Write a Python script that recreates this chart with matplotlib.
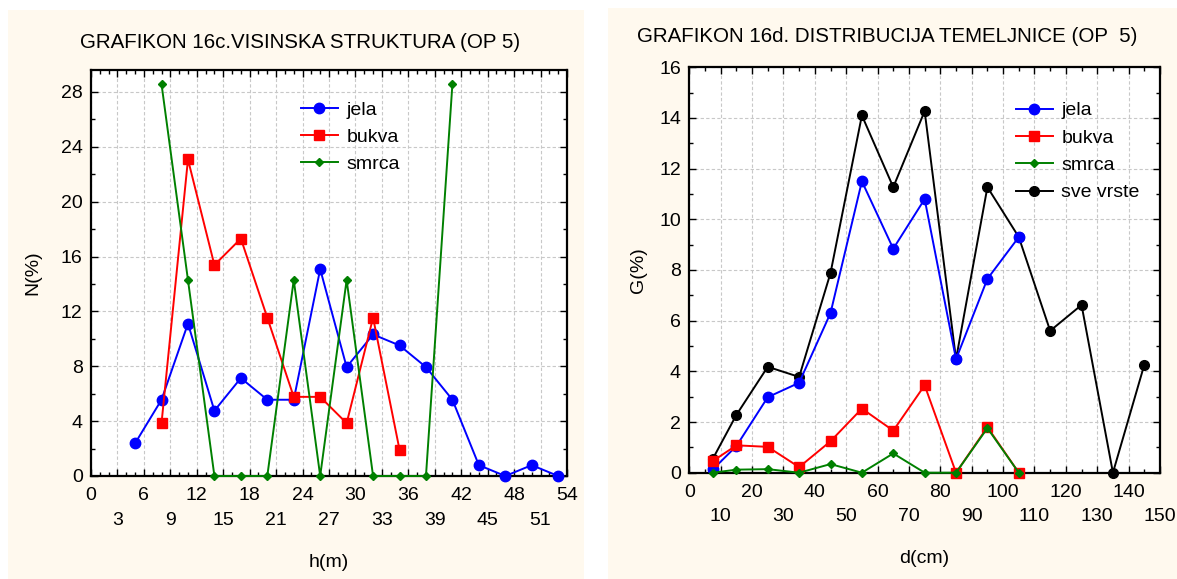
import numpy as np
import matplotlib
matplotlib.use("Agg")
import matplotlib.pyplot as plt
from matplotlib.patches import Rectangle
from matplotlib.ticker import MultipleLocator, FixedLocator

plt.rcParams['font.family'] = ['Liberation Sans', 'DejaVu Sans']

# ── Data: height structure (h in m) ──────────────────────────────────────────
h_jela  = [5, 8, 11, 14, 17, 20, 23, 26, 29, 32, 35, 38, 41, 44, 47, 50, 53]
n_jela  = [2.38, 5.56, 11.11, 4.76, 7.14, 5.56, 5.56, 15.08, 7.94, 10.32,
           9.52, 7.94, 5.56, 0.79, 0.0, 0.79, 0.0]
h_bukva = [8, 11, 14, 17, 20, 23, 26, 29, 32, 35]
n_bukva = [3.85, 23.08, 15.38, 17.31, 11.54, 5.77, 5.77, 3.85, 11.54, 1.92]
h_smrca = [8, 11, 14, 17, 20, 23, 26, 29, 32, 35, 38, 41]
n_smrca = [28.57, 14.29, 0, 0, 0, 14.29, 0, 14.29, 0, 0, 0, 28.57]

# ── Data: basal area distribution (d in cm) ──────────────────────────────────
d_short = [7.5, 15, 25, 35, 45, 55, 65, 75, 85, 95, 105]
g_jela  = [0.13, 1.05, 2.98, 3.55, 6.3, 11.5, 8.84, 10.8, 4.48, 7.65, 9.3]
g_bukva = [0.46, 1.08, 1.02, 0.22, 1.24, 2.53, 1.66, 3.45, 0.0, 1.8, 0.0]
g_smrca = [0.0, 0.12, 0.14, 0.0, 0.34, 0.0, 0.76, 0.0, 0.0, 1.76, 0.0]
d_all   = [7.5, 15, 25, 35, 45, 55, 65, 75, 85, 95, 105, 115, 125, 135, 145]
g_all   = [0.55, 2.28, 4.18, 3.78, 7.88, 14.1, 11.27, 14.27, 4.48, 11.27,
           9.3, 5.6, 6.62, 0.0, 4.26]

CREAM = '#fff9ee'
FS = 14

fig = plt.figure(figsize=(11.77, 5.79), dpi=100)
fig.patch.set_facecolor('white')
fig.patches.append(Rectangle((8 / 1177, 0), 576 / 1177, 569 / 579,
                             transform=fig.transFigure, facecolor=CREAM,
                             edgecolor='none', zorder=-10))
fig.patches.append(Rectangle((608 / 1177, 0), 569 / 1177, 571 / 579,
                             transform=fig.transFigure, facecolor=CREAM,
                             edgecolor='none', zorder=-10))


def style_axes(ax, xmaj, xmin, ymaj, ymin, xmax, ymax):
    ax.set_facecolor('white')
    ax.set_xlim(0, xmax)
    ax.set_ylim(0, ymax)
    ax.xaxis.set_minor_locator(MultipleLocator(xmin))
    ax.yaxis.set_major_locator(MultipleLocator(ymaj))
    ax.yaxis.set_minor_locator(MultipleLocator(ymin))
    ticks = np.arange(0, xmax + 0.001, xmaj)
    ax.xaxis.set_major_locator(FixedLocator(ticks))
    # alternate labels on two rows, like the original
    labels = [f"{t:g}" if i % 2 == 0 else f"\n{t:g}" for i, t in enumerate(ticks)]
    ax.set_xticklabels(labels, fontsize=FS, linespacing=1.58)
    ax.tick_params(axis='y', labelsize=FS)
    ax.tick_params(which='both', direction='in', top=True, right=True,
                   color='black')
    ax.tick_params(which='major', length=5, width=1)
    ax.tick_params(which='minor', length=3, width=1)
    ax.tick_params(axis='x', which='major', pad=8)
    ax.tick_params(axis='y', which='major', pad=6)
    ax.grid(True, which='major', color='#c8c8c8', linestyle=(0, (3, 2)), lw=0.8)
    ax.set_axisbelow(True)
    for sp in ax.spines.values():
        sp.set_linewidth(1.6)


# ── Left: GRAFIKON 16c ───────────────────────────────────────────────────────
ax1 = fig.add_axes([91 / 1177, 103 / 579, 476 / 1177, 406 / 579])
style_axes(ax1, 3, 1, 4, 2, 54, 29.6)
ax1.plot(h_jela, n_jela, '-o', color='#0000ff', lw=1.4, ms=7.5, label='jela',
         clip_on=False, zorder=3)
ax1.plot(h_bukva, n_bukva, '-s', color='#ff0000', lw=1.4, ms=7, label='bukva',
         clip_on=False, zorder=3)
ax1.plot(h_smrca, n_smrca, '-D', color='#008000', lw=1.4, ms=4.5, label='smrca',
         clip_on=False, zorder=3)
ax1.set_ylabel('N(%)', fontsize=FS, labelpad=14)
ax1.set_xlabel('h(m)', fontsize=FS, labelpad=18)
ax1.legend(loc='upper left', bbox_to_anchor=(0.404, 0.967), frameon=False,
           fontsize=FS, handlelength=1.9, labelspacing=0.5, handletextpad=0.45)
fig.text(300 / 1177, 1 - 42 / 579, 'GRAFIKON 16c.VISINSKA STRUKTURA (OP 5)',
         ha='center', va='center', fontsize=14.8)

# ── Right: GRAFIKON 16d ──────────────────────────────────────────────────────
ax2 = fig.add_axes([689.3 / 1177, 106.3 / 579, 470.7 / 1177, 405.4 / 579])
style_axes(ax2, 10, 5, 2, 1, 150, 16)
ax2.plot(d_short, g_jela, '-o', color='#0000ff', lw=1.4, ms=7.5, label='jela',
         clip_on=False, zorder=3)
ax2.plot(d_short, g_bukva, '-s', color='#ff0000', lw=1.4, ms=7, label='bukva',
         clip_on=False, zorder=3)
ax2.plot(d_short, g_smrca, '-D', color='#008000', lw=1.4, ms=4.5, label='smrca',
         clip_on=False, zorder=4)
ax2.plot(d_all, g_all, '-o', color='black', lw=1.4, ms=7, label='sve vrste',
         clip_on=False, zorder=2)
ax2.set_ylabel('G(%)', fontsize=FS, labelpad=9)
ax2.set_xlabel('d(cm)', fontsize=FS, labelpad=18)
ax2.legend(loc='upper left', bbox_to_anchor=(0.656, 0.958), frameon=False,
           fontsize=FS, handlelength=1.9, labelspacing=0.5, handletextpad=0.45)
fig.text(887 / 1177, 1 - 36 / 579, 'GRAFIKON 16d. DISTRIBUCIJA TEMELJNICE (OP  5)',
         ha='center', va='center', fontsize=14.8)

fig.savefig('out.png', dpi=100)
